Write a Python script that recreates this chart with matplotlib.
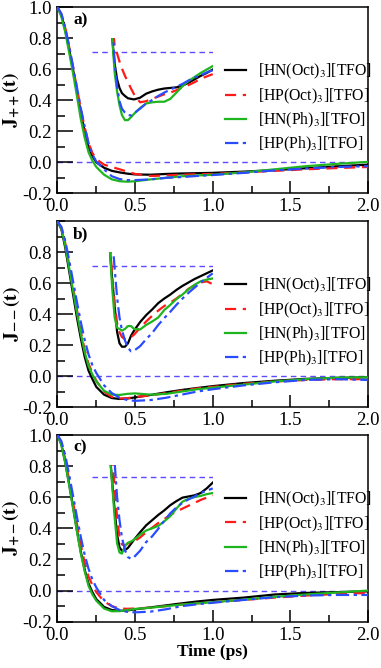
"""
Time correlation functions J(t) for four ionic liquids, three stacked panels
with magnified insets.
"""

import matplotlib
matplotlib.use('Agg')
import matplotlib.pyplot as plt
from matplotlib.ticker import MultipleLocator, FormatStrFormatter
from matplotlib import rcParams

# ── Style ─────────────────────────────────────────────────────────────────────
rcParams.update({
    'font.family':        'serif',
    'font.serif':         ['Liberation Serif', 'DejaVu Serif'],
    'mathtext.fontset':   'stix',
    'axes.unicode_minus': False,
    'axes.linewidth':     1.1,
    'xtick.direction':    'in',
    'ytick.direction':    'in',
})

# ── Data: main panels ─────────────────────────────────────────────────────────
t = [0.0, 0.025, 0.05, 0.075, 0.1, 0.125, 0.15, 0.175, 0.2, 0.225, 0.25,
     0.3, 0.35, 0.4, 0.45, 0.5, 0.6, 0.7, 0.8, 0.9, 1.0, 1.2, 1.4, 1.6,
     1.8, 2.0]

labels = ['[HN(Oct)$_3$][TFO]', '[HP(Oct)$_3$][TFO]',
          '[HN(Ph)$_3$][TFO]', '[HP(Ph)$_3$][TFO]']

# (a) J++
a_hn_oct = [1.0, 0.95, 0.855, 0.73, 0.6, 0.46, 0.32, 0.2, 0.1, 0.04, 0.0,
            -0.035, -0.055, -0.065, -0.073, -0.078, -0.08, -0.075, -0.072,
            -0.07, -0.068, -0.06, -0.05, -0.038, -0.026, -0.015]
a_hp_oct = [1.0, 0.955, 0.865, 0.745, 0.615, 0.48, 0.345, 0.225, 0.125,
            0.06, 0.02, -0.015, -0.03, -0.045, -0.06, -0.075, -0.088,
            -0.085, -0.08, -0.077, -0.075, -0.065, -0.055, -0.045, -0.037,
            -0.03]
a_hn_ph = [1.0, 0.94, 0.84, 0.71, 0.575, 0.43, 0.28, 0.16, 0.065, 0.01,
           -0.03, -0.08, -0.11, -0.122, -0.125, -0.122, -0.11, -0.1, -0.09,
           -0.085, -0.08, -0.065, -0.045, -0.025, -0.01, 0.003]
a_hp_ph = [1.0, 0.96, 0.87, 0.75, 0.62, 0.485, 0.35, 0.23, 0.125, 0.05,
           0.005, -0.045, -0.09, -0.108, -0.115, -0.115, -0.11, -0.1,
           -0.095, -0.088, -0.082, -0.068, -0.052, -0.04, -0.03, -0.025]

# (b) J--
b_hn_oct = [1.0, 0.95, 0.83, 0.68, 0.53, 0.38, 0.245, 0.125, 0.035, -0.02,
            -0.07, -0.12, -0.142, -0.148, -0.145, -0.138, -0.122, -0.105,
            -0.09, -0.077, -0.065, -0.045, -0.03, -0.018, -0.012, -0.008]
b_hp_oct = [1.0, 0.96, 0.86, 0.72, 0.575, 0.43, 0.29, 0.17, 0.08, 0.02,
            -0.03, -0.1, -0.135, -0.145, -0.143, -0.135, -0.125, -0.11,
            -0.095, -0.08, -0.07, -0.05, -0.035, -0.025, -0.02, -0.02]
b_hn_ph = [1.0, 0.955, 0.845, 0.7, 0.555, 0.41, 0.275, 0.155, 0.065, 0.01,
           -0.035, -0.095, -0.12, -0.122, -0.115, -0.112, -0.12, -0.115,
           -0.1, -0.085, -0.075, -0.055, -0.035, -0.02, -0.01, -0.008]
b_hp_ph = [1.0, 0.965, 0.875, 0.75, 0.615, 0.48, 0.35, 0.235, 0.14, 0.07,
           0.02, -0.06, -0.11, -0.14, -0.155, -0.16, -0.155, -0.14, -0.12,
           -0.1, -0.085, -0.06, -0.04, -0.025, -0.02, -0.025]

# (c) J+-
c_hn_oct = [1.0, 0.94, 0.825, 0.685, 0.54, 0.39, 0.25, 0.135, 0.045, -0.01,
            -0.055, -0.105, -0.125, -0.13, -0.128, -0.12, -0.108, -0.095,
            -0.082, -0.07, -0.06, -0.045, -0.025, -0.015, -0.01, -0.005]
c_hp_oct = [1.0, 0.95, 0.845, 0.71, 0.57, 0.43, 0.295, 0.18, 0.09, 0.035,
            -0.01, -0.07, -0.1, -0.115, -0.117, -0.115, -0.11, -0.1, -0.09,
            -0.082, -0.075, -0.06, -0.045, -0.032, -0.022, -0.015]
c_hn_ph = [1.0, 0.935, 0.82, 0.68, 0.53, 0.38, 0.24, 0.125, 0.03, -0.025,
           -0.065, -0.115, -0.133, -0.132, -0.125, -0.118, -0.11, -0.1,
           -0.09, -0.082, -0.075, -0.058, -0.04, -0.025, -0.012, 0.0]
c_hp_ph = [1.0, 0.96, 0.87, 0.745, 0.61, 0.475, 0.345, 0.23, 0.14, 0.07,
           0.02, -0.06, -0.1, -0.125, -0.137, -0.14, -0.135, -0.12, -0.1,
           -0.088, -0.078, -0.06, -0.042, -0.032, -0.028, -0.028]

# ── Data: insets (magnified long-time part) ───────────────────────────────────
t_in = [0.30, 0.34, 0.38, 0.42, 0.46, 0.50, 0.55, 0.60, 0.65, 0.70, 0.80,
        0.90, 1.00, 1.10, 1.20, 1.30, 1.40, 1.50, 1.60, 1.70, 1.80, 1.90,
        2.00]

ia_hn_oct = [0.1, 0.024, -0.02, -0.047, -0.062, -0.071, -0.076, -0.08,
             -0.081, -0.082, -0.079, -0.072, -0.068, -0.065, -0.063, -0.062,
             -0.061, -0.058, -0.053, -0.047, -0.041, -0.036, -0.03]
ia_hp_oct = [0.15, 0.05, 0.012, -0.002, -0.016, -0.028, -0.041, -0.052,
             -0.063, -0.073, -0.087, -0.085, -0.081, -0.077, -0.073, -0.07,
             -0.066, -0.061, -0.057, -0.052, -0.046, -0.042, -0.038]
ia_hn_ph = [0.1, 0.024, -0.035, -0.068, -0.092, -0.109, -0.118, -0.118,
            -0.113, -0.107, -0.097, -0.089, -0.087, -0.086, -0.086, -0.081,
            -0.07, -0.059, -0.05, -0.043, -0.036, -0.03, -0.024]
ia_hp_ph = [0.15, 0.06, -0.02, -0.06, -0.085, -0.098, -0.105, -0.109,
            -0.11, -0.106, -0.098, -0.089, -0.083, -0.076, -0.07, -0.065,
            -0.06, -0.055, -0.049, -0.044, -0.04, -0.035, -0.031]

ib_hn_oct = [0.03, -0.025, -0.071, -0.115, -0.135, -0.141, -0.141, -0.135,
             -0.122, -0.113, -0.098, -0.086, -0.076, -0.065, -0.057, -0.05,
             -0.042, -0.035, -0.029, -0.023, -0.018, -0.013, -0.008]
ib_hp_oct = [0.04, -0.02, -0.065, -0.1, -0.116, -0.124, -0.128, -0.128,
             -0.124, -0.12, -0.108, -0.097, -0.087, -0.078, -0.07, -0.064,
             -0.057, -0.049, -0.04, -0.034, -0.029, -0.027, -0.032]
ib_hn_ph = [0.03, -0.04, -0.09, -0.108, -0.11, -0.113, -0.11, -0.105,
            -0.105, -0.11, -0.111, -0.103, -0.097, -0.09, -0.077, -0.068,
            -0.058, -0.05, -0.041, -0.033, -0.027, -0.024, -0.022]
ib_hp_ph = [0.15, 0.05, -0.005, -0.055, -0.09, -0.112, -0.13, -0.143,
            -0.149, -0.148, -0.14, -0.128, -0.117, -0.103, -0.091, -0.08,
            -0.068, -0.057, -0.047, -0.038, -0.029, -0.021, -0.013]

ic_hn_oct = [0.04, -0.01, -0.058, -0.1, -0.122, -0.128, -0.127, -0.123,
             -0.116, -0.109, -0.096, -0.084, -0.075, -0.066, -0.058, -0.049,
             -0.042, -0.036, -0.034, -0.032, -0.028, -0.02, -0.01]
ic_hp_oct = [0.1, 0.04, -0.02, -0.07, -0.105, -0.117, -0.119, -0.115,
             -0.115, -0.112, -0.105, -0.096, -0.088, -0.08, -0.073, -0.066,
             -0.06, -0.055, -0.05, -0.045, -0.04, -0.036, -0.032]
ic_hn_ph = [0.04, -0.015, -0.07, -0.115, -0.131, -0.133, -0.12, -0.114,
            -0.112, -0.109, -0.1, -0.093, -0.089, -0.085, -0.077, -0.068,
            -0.055, -0.043, -0.038, -0.035, -0.033, -0.03, -0.028]
ic_hp_ph = [0.2, 0.1, 0.025, -0.035, -0.075, -0.105, -0.127, -0.139,
            -0.142, -0.139, -0.128, -0.113, -0.103, -0.09, -0.076, -0.063,
            -0.053, -0.045, -0.039, -0.034, -0.028, -0.024, -0.02]

# ── Colors / line styles ──────────────────────────────────────────────────────
colors = ['black', '#ff1a1a', '#1fb51f', '#2a4cff']
styles = ['-', (0, (5, 3)), '-', (0, (6, 2, 1.5, 2))]
col_zero = '#5b4cff'

# ── Figure layout ─────────────────────────────────────────────────────────────
fig = plt.figure(figsize=(3.81, 6.68), dpi=100, facecolor='white')

panels = [
    dict(box=[0.1509, 0.7106, 0.815, 0.2784], tag='a)',
         ylabel=r'$\mathbf{J_{++}(t)}$',
         main=[a_hn_oct, a_hp_oct, a_hn_ph, a_hp_ph],
         inset=[ia_hn_oct, ia_hp_oct, ia_hn_ph, ia_hp_ph],
         dash=0.71, itop=0.024, top_label=True),
    dict(box=[0.1509, 0.3907, 0.815, 0.2778], tag='b)',
         ylabel=r'$\mathbf{J_{--}(t)}$',
         main=[b_hn_oct, b_hp_oct, b_hn_ph, b_hp_ph],
         inset=[ib_hn_oct, ib_hp_oct, ib_hn_ph, ib_hp_ph],
         dash=0.713, itop=0.024, top_label=False),
    dict(box=[0.1509, 0.0693, 0.815, 0.2795], tag='c)',
         ylabel=r'$\mathbf{J_{+-}(t)}$',
         main=[c_hn_oct, c_hp_oct, c_hn_ph, c_hp_ph],
         inset=[ic_hn_oct, ic_hp_oct, ic_hn_ph, ic_hp_ph],
         dash=0.731, itop=0.020, top_label=True),
]

ibottom = -0.17
k = 3.71   # inset J-unit -> main J-unit magnification

for i, p in enumerate(panels):
    ax = fig.add_axes(p['box'])
    ax.axhline(0.0, color=col_zero, lw=1.0, ls=(0, (4, 3)), zorder=1)
    for y, c, s, lab in zip(p['main'], colors, styles, labels):
        ax.plot(t, y, color=c, ls=s, lw=1.6, label=lab, zorder=3)

    ax.set_xlim(0, 2.0)
    ax.set_ylim(-0.2, 1.0)
    ax.xaxis.set_major_locator(MultipleLocator(0.5))
    ax.xaxis.set_minor_locator(MultipleLocator(0.25))
    if p['top_label']:
        ax.set_yticks([-0.2, 0.0, 0.2, 0.4, 0.6, 0.8, 1.0])
    else:
        ax.set_yticks([-0.2, 0.0, 0.2, 0.4, 0.6, 0.8])
    ax.yaxis.set_minor_locator(MultipleLocator(0.1))
    ax.xaxis.set_major_formatter(FormatStrFormatter('%.1f'))
    ax.yaxis.set_major_formatter(FormatStrFormatter('%.1f'))
    ax.tick_params(axis='both', which='both', labelsize=13.5,
                   top=False, right=False)
    ax.tick_params(axis='y', which='major', length=11.5, width=1.1, pad=4)
    ax.tick_params(axis='y', which='minor', length=6, width=1.1)
    ax.tick_params(axis='x', which='major', length=8.4, width=1.1, pad=3.5)
    ax.tick_params(axis='x', which='minor', length=4.8, width=1.1)

    ax.set_ylabel(p['ylabel'], fontsize=14, labelpad=0)
    ax.text(0.05, 0.975, p['tag'], transform=ax.transAxes, fontsize=12.5,
            fontweight='bold', va='top', ha='left')

    ax.legend(loc='upper left', bbox_to_anchor=(0.54, 0.705), frameon=False,
              fontsize=11.3, handlelength=1.35, handletextpad=0.75,
              labelspacing=0.32, borderpad=0, borderaxespad=0)

    # inset: same curves magnified, frameless
    y0 = p['dash'] + ibottom * k
    h = (p['itop'] - ibottom) * k
    ins = ax.inset_axes([0.22, y0, 0.78, h], transform=ax.transData)
    ins.set_xlim(0, 2.0)
    ins.set_ylim(ibottom, p['itop'])
    ins.axhline(0.0, color=col_zero, lw=1.0, ls=(0, (4, 3)), zorder=1)
    for y, c, s in zip(p['inset'], colors, styles):
        ins.plot(t_in, y, color=c, ls=s, lw=1.6, zorder=3)
    ins.patch.set_alpha(0)
    ins.axis('off')

    if i == 2:
        ax.set_xlabel('Time (ps)', fontsize=12.5, fontweight='bold',
                      labelpad=0)

fig.savefig('out.png', dpi=100, facecolor='white')
